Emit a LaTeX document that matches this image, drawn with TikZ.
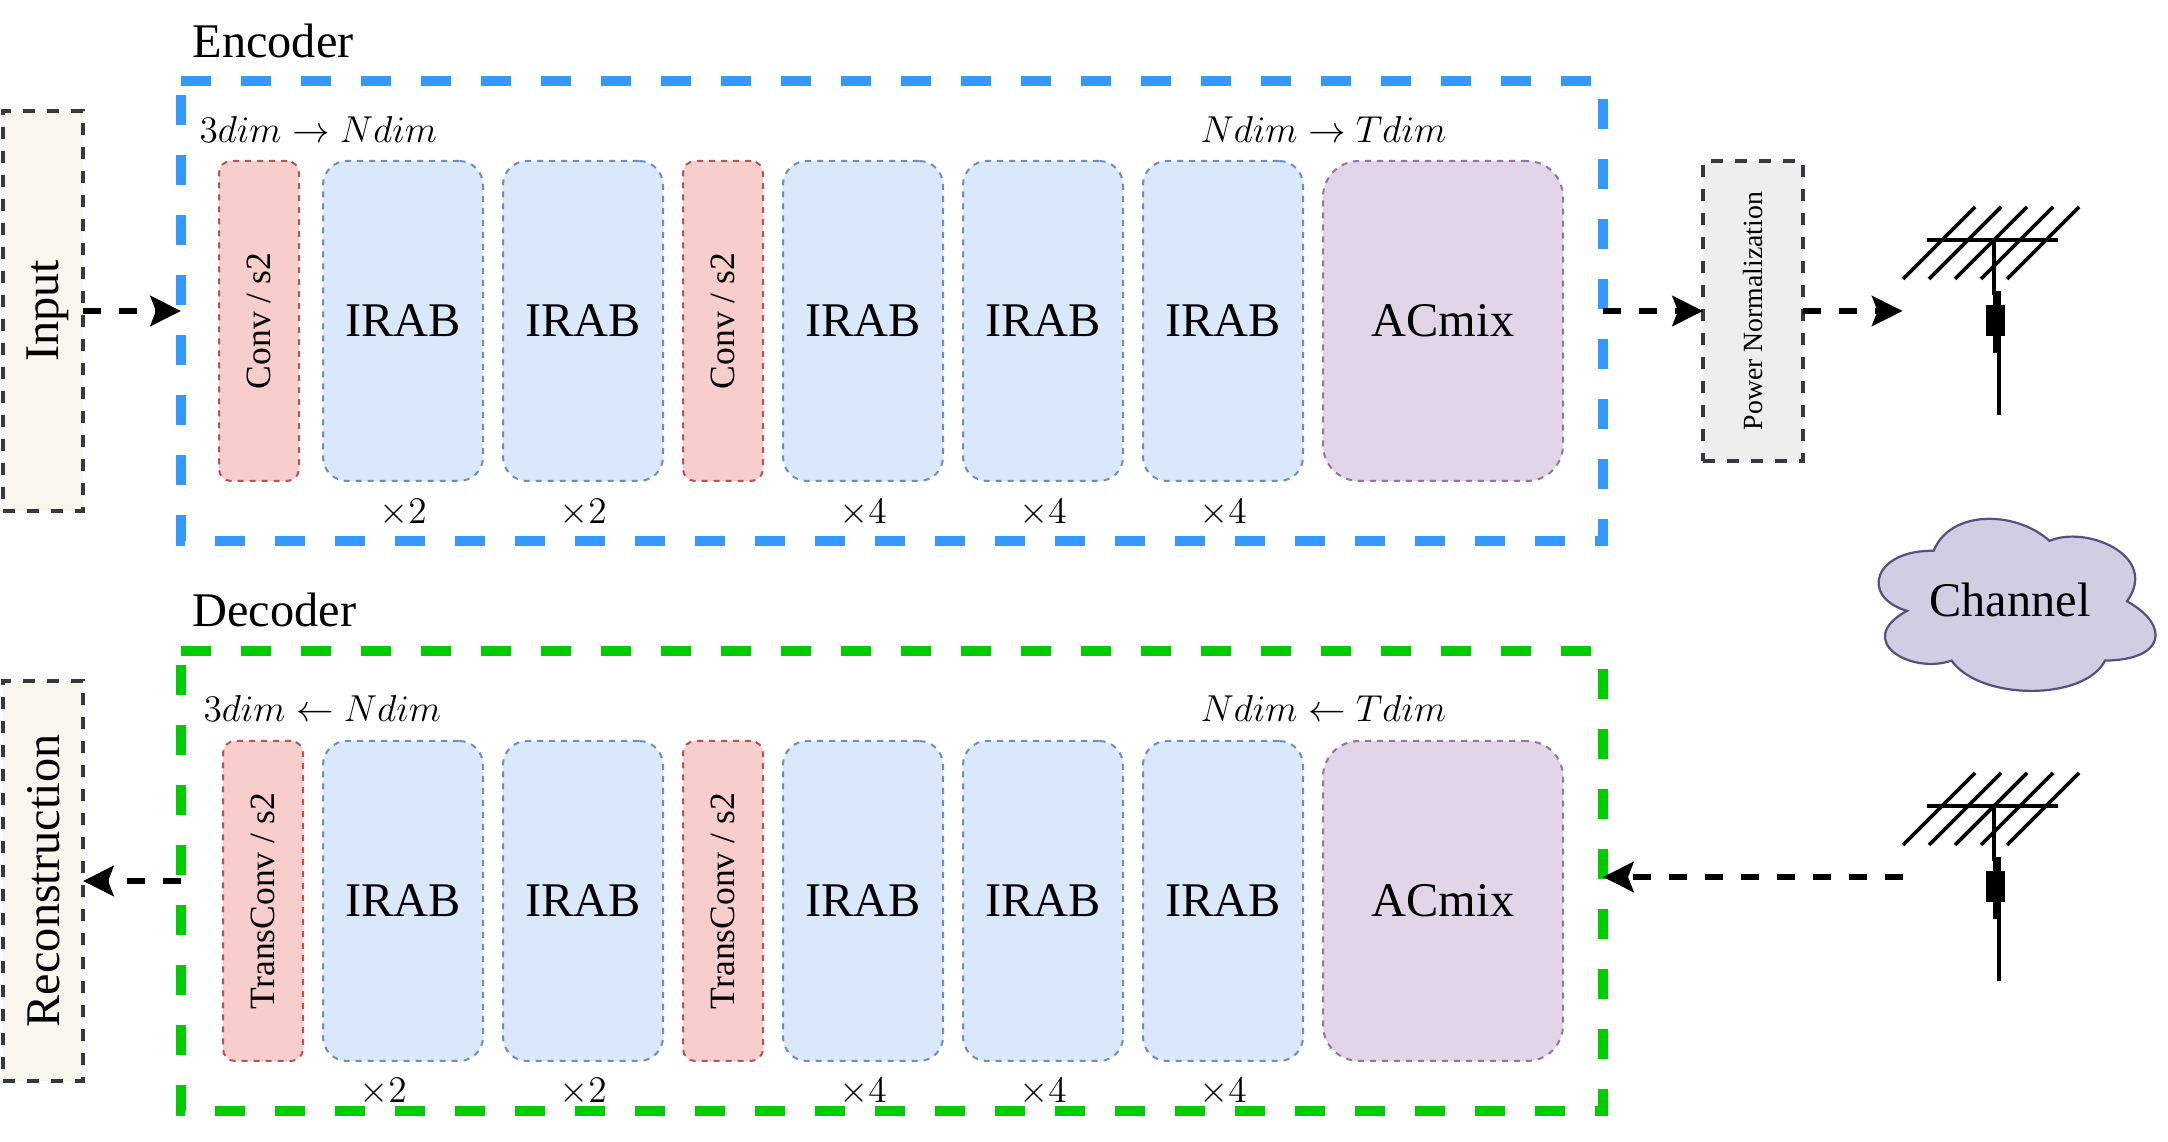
\RequirePackage{fix-cm}
\documentclass[tikz,border=0pt]{standalone}
\usepackage[no-math]{fontspec}
\usepackage{amsmath}
\usepackage{xcolor}
\usetikzlibrary{arrows.meta}
\setmainfont{Liberation Serif}

\definecolor{redfill}{HTML}{F8CECC}
\definecolor{redline}{HTML}{B85450}
\definecolor{bluefill}{HTML}{DAE8FC}
\definecolor{blueline}{HTML}{6C8EBF}
\definecolor{purpfill}{HTML}{E1D5E7}
\definecolor{purpline}{HTML}{9673A6}
\definecolor{creamfill}{HTML}{F9F7ED}
\definecolor{greyfill}{HTML}{EEEEEE}
\definecolor{darkline}{HTML}{36393D}
\definecolor{cloudfill}{HTML}{D0CEE2}
\definecolor{cloudline}{HTML}{56517E}
\definecolor{encline}{HTML}{3399FF}
\definecolor{decline}{HTML}{00CC00}

\newcommand{\vtxt}[1]{\rotatebox{90}{\raisebox{0pt}[\height][0pt]{#1}}}

\tikzset{
	block/.style={draw,dash pattern=on 2.16pt off 2.16pt,line width=0.72pt,inner sep=0pt,minimum height=115.2pt},
	convbox/.style={block,fill=redfill,draw=redline,rounded corners=4.32pt,minimum width=28.8pt,font=\fontsize{12.8}{15}\selectfont},
	irabbox/.style={block,fill=bluefill,draw=blueline,rounded corners=8.64pt,minimum width=57.6pt,font=\fontsize{17.4}{20}\selectfont},
	mixbox/.style={block,fill=purpfill,draw=purpline,rounded corners=12.96pt,minimum width=86.4pt,font=\fontsize{17.4}{20}\selectfont},
	sidebox/.style={draw=darkline,line width=1.44pt,dash pattern=on 4.32pt off 4.32pt,inner sep=0pt,outer sep=0pt,minimum width=28.8pt},
	framebox/.style={inner sep=0pt,outer sep=0pt,minimum width=511.92pt,minimum height=165.6pt},
	frameline/.style={line width=3.6pt,dash pattern=on 10.8pt off 10.8pt},
	flow/.style={line width=2.16pt,dash pattern=on 6.48pt off 6.48pt,-{Stealth[length=11pt,width=10.8pt,inset=2pt]}},
	rept/.style={font=\fontsize{13.5}{16}\selectfont},
	dimlab/.style={font=\fontsize{13.5}{16}\selectfont,anchor=base west,inner sep=0pt},
	title/.style={font=\fontsize{17.4}{20}\selectfont,anchor=base west,inner sep=0pt}
}

\begin{document}
\begin{tikzpicture}[x=0.36pt,y=-0.36pt]
	\useasboundingbox (0,0) rectangle (2168,1142);

	\node[title] (enctitle) at (192,58) {Encoder};
	\node[framebox] (encframe) at (892,311) {};
	\draw[frameline,encline] (encframe.north west) -- (encframe.north east) -- (encframe.south east) -- (encframe.south west) -- cycle;
	\node[dimlab] (encdimA) at (199,142.5) {$3dim \rightarrow Ndim$};
	\node[dimlab] (encdimB) at (1200,142.5) {$Ndim \rightarrow Tdim$};

	\node[convbox] (encconvA) at (259,321) {\vtxt{Conv / s2}};
	\node[irabbox] (encirabA) at (403,321) {IRAB};
	\node[irabbox] (encirabB) at (583,321) {IRAB};
	\node[convbox] (encconvB) at (723,321) {\vtxt{Conv / s2}};
	\node[irabbox] (encirabC) at (863,321) {IRAB};
	\node[irabbox] (encirabD) at (1043,321) {IRAB};
	\node[irabbox] (encirabE) at (1223,321) {IRAB};
	\node[mixbox] (encmix) at (1443,321) {ACmix};

	\node[rept] (encrepA) at (403,512.5) {$\times 2$};
	\node[rept] (encrepB) at (583,512.5) {$\times 2$};
	\node[rept] (encrepC) at (863,512.5) {$\times 4$};
	\node[rept] (encrepD) at (1043,512.5) {$\times 4$};
	\node[rept] (encrepE) at (1223,512.5) {$\times 4$};

	\node[title] (dectitle) at (192,626.5) {Decoder};
	\node[framebox] (decframe) at (892,881) {};
	\draw[frameline,decline] (decframe.north west) -- (decframe.north east) -- (decframe.south east) -- (decframe.south west) -- cycle;
	\node[dimlab] (decdimA) at (203,722) {$3dim \leftarrow Ndim$};
	\node[dimlab] (decdimB) at (1200,722) {$Ndim \leftarrow Tdim$};

	\node[convbox] (decconvA) at (263,901) {\vtxt{TransConv / s2}};
	\node[irabbox] (decirabA) at (403,901) {IRAB};
	\node[irabbox] (decirabB) at (583,901) {IRAB};
	\node[convbox] (decconvB) at (723,901) {\vtxt{TransConv / s2}};
	\node[irabbox] (decirabC) at (863,901) {IRAB};
	\node[irabbox] (decirabD) at (1043,901) {IRAB};
	\node[irabbox] (decirabE) at (1223,901) {IRAB};
	\node[mixbox] (decmix) at (1443,901) {ACmix};

	\node[rept] (decrepA) at (383,1091.5) {$\times 2$};
	\node[rept] (decrepB) at (583,1091.5) {$\times 2$};
	\node[rept] (decrepC) at (863,1091.5) {$\times 4$};
	\node[rept] (decrepD) at (1043,1091.5) {$\times 4$};
	\node[rept] (decrepE) at (1223,1091.5) {$\times 4$};

	\node[sidebox,fill=creamfill,minimum height=144pt,font=\fontsize{17.4}{20}\selectfont] (input) at (43,311) {\vtxt{Input}};
	\node[sidebox,fill=creamfill,minimum height=144pt,font=\fontsize{17.4}{20}\selectfont] (recon) at (43,881) {\vtxt{Reconstruction}};
	\node[sidebox,fill=greyfill,minimum width=36pt,minimum height=108pt,font=\fontsize{10}{12}\selectfont] (power) at (1753,311) {\vtxt{Power Normalization}};

	\foreach \off in {0,566} {
		\begin{scope}[shift={(0,\off)}]
			\foreach \s in {0,26,52,78,104} {
				\draw[line width=1.3pt] (1903+\s,279) -- (1975+\s,207);
			}
			\draw[line width=1.44pt] (1927,240) -- (2058,240);
			\draw[line width=1.26pt] (1994,240) -- (1994,295);
			\fill (1993,291) rectangle (2000.6,353);
			\fill (1985.7,305.5) rectangle (2005,336.5);
			\draw[line width=1.44pt] (1998.5,350) -- (1998.5,414.6);
		\end{scope}
	}
	\coordinate (txant) at (1902.6,311);
	\coordinate (rxant) at (1902.6,877);

	\draw[fill=cloudfill,draw=cloudline,line width=0.8pt] (1933.7,550.8) .. controls (1950,510) and (2015,510) .. (2049.6,540.9)
		.. controls (2085,525) and (2160,555) .. (2127,601.3)
		.. controls (2170,625) and (2166,660) .. (2105,660.6)
		.. controls (2085,701) and (1980,701) .. (1951.6,660.6)
		.. controls (1910,675) and (1853,640) .. (1907,610.9)
		.. controls (1860,597) and (1873,550) .. (1933.7,550.8) -- cycle;
	\node[font=\fontsize{17.4}{20}\selectfont] (channel) at (2010,600) {Channel};

	\draw[flow] (input.east) -- (encframe.west);
	\draw[flow] (encframe.east) -- (power.west);
	\draw[flow] (power.east) -- (txant);
	\draw[flow] (rxant) -- (decframe.east |- rxant);
	\draw[flow] (decframe.west) -- (recon.east);
\end{tikzpicture}
\end{document}
